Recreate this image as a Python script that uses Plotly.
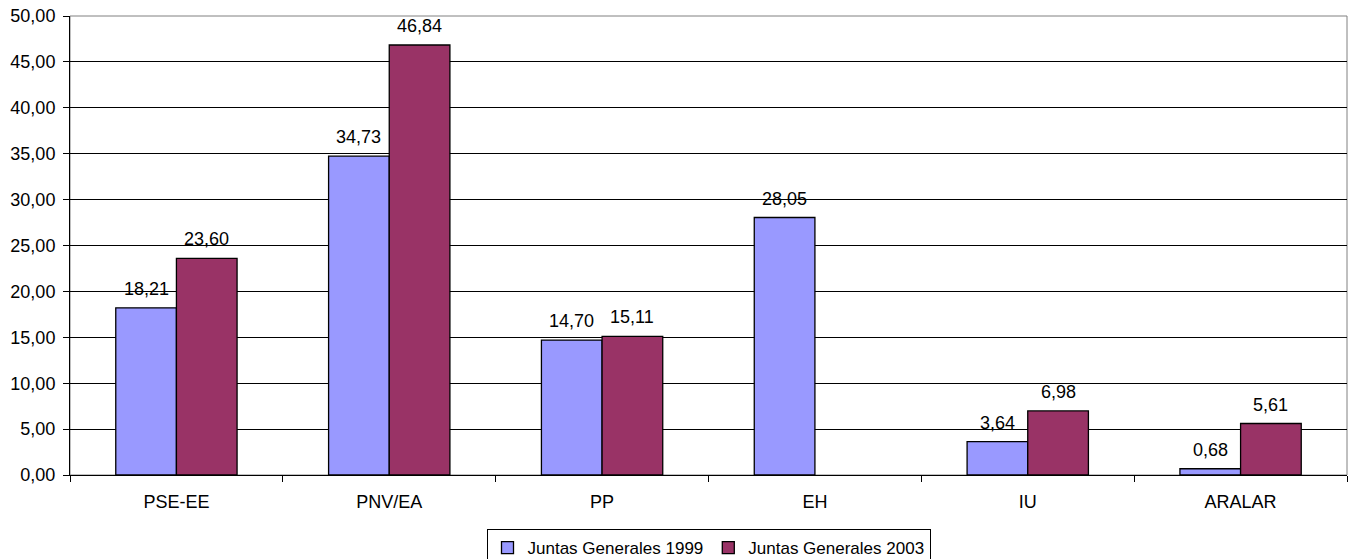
import plotly.graph_objects as go

categories = ["PSE-EE", "PNV/EA", "PP", "EH", "IU", "ARALAR"]
series_1999_name = "Juntas Generales 1999"
series_2003_name = "Juntas Generales 2003"
values_1999 = [18.21, 34.73, 14.70, 28.05, 3.64, 0.68]
values_2003 = [23.60, 46.84, 15.11, None, 6.98, 5.61]
y_ticks = [0, 5, 10, 15, 20, 25, 30, 35, 40, 45, 50]

color_1999 = "#9999FF"
color_2003 = "#993366"
FONT = "Liberation Sans, Arial, sans-serif"
FS = 18

fig = go.Figure()
fig.add_trace(go.Bar(name=series_1999_name, x=categories, y=values_1999,
                     marker=dict(color=color_1999, line=dict(color="#000000", width=1.3))))
fig.add_trace(go.Bar(name=series_2003_name, x=categories, y=values_2003,
                     marker=dict(color=color_2003, line=dict(color="#000000", width=1.3))))

L, R, T, B = 70, 9, 16, 84
W, H = 1356, 559
plot_w = W - L - R
bargap = 0.43
bar_px = plot_w / len(categories) * (1 - bargap) / 2

annotations = []
for vals, sign in ((values_1999, -1), (values_2003, 1)):
    for c, v in zip(categories, vals):
        if v is None:
            continue
        annotations.append(dict(x=c, y=v, xref="x", yref="y",
                                text=f"{v:.2f}".replace(".", ","),
                                showarrow=False, xshift=sign * bar_px / 2, yshift=19,
                                yanchor="middle", font=dict(family=FONT, size=FS, color="#000")))

fig.update_layout(
    width=W, height=H,
    margin=dict(l=L, r=R, t=T, b=B, autoexpand=False),
    paper_bgcolor="white", plot_bgcolor="white",
    barmode="group", bargap=bargap, bargroupgap=0,
    separators=",.",
    font=dict(family=FONT, size=FS, color="#000"),
    showlegend=True,
    legend=dict(orientation="h", x=0.5, xanchor="center",
                yref="container", y=(H - 529) / H, yanchor="top",
                bordercolor="#000", borderwidth=1, font=dict(family=FONT, size=17),
                itemwidth=30, tracegroupgap=0),
    annotations=annotations,
    shapes=[dict(type="rect", xref="paper", yref="paper", x0=0, x1=1, y0=0, y1=1,
                 line=dict(color="#808080", width=1), layer="below")],
)
fig.update_xaxes(showgrid=False, showline=True, linecolor="#000", linewidth=1,
                 ticks="outside", tickson="boundaries", ticklen=6, tickcolor="#000",
                 ticklabelstandoff=10, tickfont=dict(family=FONT, size=FS), automargin=False)
fig.update_yaxes(range=[0, 50], tickvals=y_ticks, tickformat=".2f",
                 showgrid=True, gridcolor="#000", gridwidth=1,
                 showline=True, linecolor="#000", linewidth=1,
                 ticks="outside", ticklen=6, tickcolor="#000",
                 ticklabelstandoff=4, zeroline=False, automargin=False,
                 tickfont=dict(family=FONT, size=FS))

fig.write_html("out.html", config={"displayModeBar": False},
               post_script="document.body.style.margin='0';document.body.style.overflow='hidden';")
